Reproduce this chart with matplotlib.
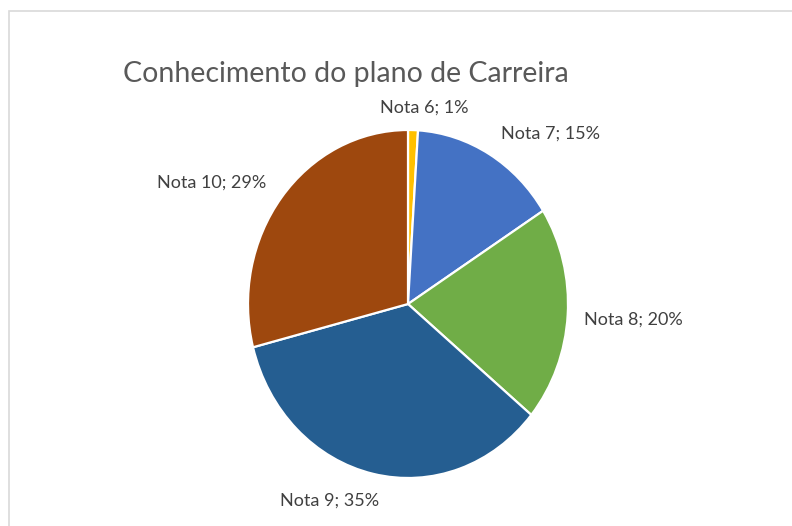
import matplotlib.pyplot as plt
from matplotlib.patches import Rectangle

title = "Conhecimento do plano de Carreira"
categories = ["Nota 6", "Nota 7", "Nota 8", "Nota 9", "Nota 10"]
percent = [1, 15, 20, 35, 29]
colors = ["#FFC000", "#4472C4", "#70AD47", "#255E91", "#9E480E"]

# label text positions (data coords of the pie axes, radius = 1)
label_pos = [(0.10, 1.13), (0.89, 0.98), (1.41, -0.09), (-0.49, -1.13), (-1.23, 0.70)]

W, H = 792, 526
fig = plt.figure(figsize=(W / 100, H / 100), dpi=100)
# chart frame, cut off at the right and bottom
fig.patches.append(Rectangle((9 / W, -0.1), 1.2, 1.1 - 11 / H,
                             transform=fig.transFigure, fill=False,
                             edgecolor="#D9D9D9", linewidth=1.2))

# pie bounding box in pixels: x 248..568, y 130..478 (from top)
ax = fig.add_axes([248 / W, (H - 478) / H, 320 / W, 348 / H])
ax.pie(percent, colors=colors, startangle=90, counterclock=False,
       wedgeprops=dict(edgecolor="white", linewidth=1.6))
ax.set_aspect("auto")
ax.set_xlim(-1, 1)
ax.set_ylim(-1, 1)

for name, p, (x, y) in zip(categories, percent, label_pos):
    ax.text(x, y, f"{name}; {p}%", ha="center", va="center",
            fontsize=13, color="#404040", family="Lato")

fig.text(123 / W, 1 - 74 / H, title, ha="left", va="center",
         fontsize=20.5, color="#595959", family="Lato")

fig.savefig("out.png", dpi=100)
